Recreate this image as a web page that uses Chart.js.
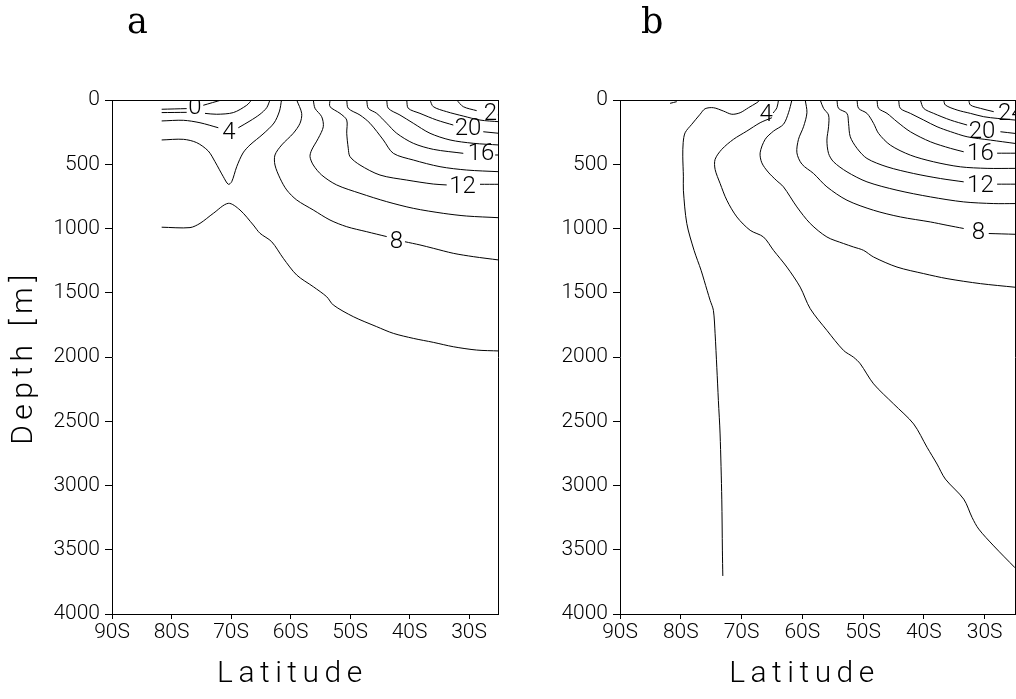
<!DOCTYPE html>
<html>
<head>
<meta charset="utf-8">
<script src="https://cdn.jsdelivr.net/npm/chart.js@4.4.0/dist/chart.umd.min.js"></script>
<style>
  html, body { margin: 0; padding: 0; background: #fff; }
  #wrap { position: relative; width: 1016px; height: 699px; overflow: hidden; }
  canvas { position: absolute; top: 0; }
  #ca { left: 0; }
  #cb { left: 508px; }
</style>
</head>
<body>
<div id="wrap">
  <canvas id="ca" width="508" height="699"></canvas>
  <canvas id="cb" width="508" height="699"></canvas>
</div>
<script>
// ---------- axis ticks ----------
const latTicks = [-90, -80, -70, -60, -50, -40, -30];
const latTickLabels = ['90S', '80S', '70S', '60S', '50S', '40S', '30S'];
const depthTicks = [0, 500, 1000, 1500, 2000, 2500, 3000, 3500, 4000];
const depthTickLabels = ['0', '500', '1000', '1500', '2000', '2500', '3000', '3500', '4000'];

// ---------- panel a : contour lines [latitude, depth]  (null = break at a label) ----------
const contA_0u = [[-81.65,72],[-77.45,67],null,[-74.66,41],[-71.6,0]];
const contA_0l = [[-81.65,98],[-77.45,96],null,[-74.37,104],[-72.4,111],[-69.61,98],[-67.36,41],[-66.52,0]];
const contA_4  = [[-81.65,163],[-78.0,158],[-75.21,177],[-72.13,216],null,[-68.77,216],[-66.81,163],[-65.13,111],[-64.0,60],[-63.45,0]];
const contA_5  = [[-81.65,311],[-78.0,306],[-75.76,332],[-73.82,397],[-72.69,480],[-71.29,597],[-70.45,656],[-69.88,636],[-69.04,519],[-67.98,412],[-66.81,350],[-64.62,265],[-62.77,179],[-61.85,86],[-61.51,0]];
const contA_6  = [[-81.65,990],[-76.89,993],[-75.21,960],[-72.97,882],[-70.45,804],[-68.49,856],[-66.25,973],[-65.13,1037],[-63.16,1103],[-61.21,1232],[-58.96,1362],[-56.17,1453],[-53.92,1531],[-52.81,1595],[-49.45,1686],[-45.51,1764],[-42.72,1816],[-39.36,1855],[-36.0,1886],[-32.64,1920],[-28.71,1946],[-25,1953]];
const contA_8  = [[-58.96,0],[-58.12,104],[-58.4,181],[-59.53,259],[-61.48,350],[-62.61,428],[-62.61,506],[-61.76,609],[-60.64,700],[-58.96,778],[-56.17,856],[-53.36,934],[-50.55,986],[-47.19,1025],[-43.83,1063],null,[-40.76,1103],[-38.24,1128],[-36.0,1154],[-32.64,1193],[-29.28,1219],[-25,1245]];
const contA_10 = [[-56.17,0],[-55.88,65],[-54.76,130],[-54.49,208],[-55.33,298],[-56.44,389],[-56.72,441],[-56.17,506],[-54.76,584],[-52.24,661],[-48.32,726],[-43.83,791],[-39.36,843],[-34.32,882],[-30.39,903],[-25,916]];
const contA_12 = [[-53.36,0],[-53.36,52],[-51.68,104],[-50.55,156],[-50.55,259],[-50.29,376],[-50.0,441],[-48.32,506],[-44.96,584],[-40.47,623],[-36.0,654],[-33.75,661],null,[-28.15,656],[-25,656]];
const contA_14 = [[-50.55,0],[-50.29,65],[-48.32,117],[-46.64,181],[-44.4,311],[-42.72,415],[-39.36,467],[-34.87,519],[-30.39,545],[-25,558]];
const contA_16 = [[-47.19,0],[-46.92,65],[-45.51,104],[-43.83,181],[-42.15,259],[-39.36,337],[-36.0,384],[-30.96,415],null,[-25.6,428],[-25,428]];
const contA_18 = [[-43.83,0],[-43.56,65],[-41.6,117],[-39.36,181],[-36.55,259],[-33.19,311],[-29.28,337],[-25,350]];
const contA_20 = [[-40.47,0],[-40.2,65],[-38.24,104],[-35.43,156],[-32.64,195],null,[-27.6,247],[-25,259]];
const contA_22 = [[-36.55,0],[-36.0,52],[-33.75,91],[-30.96,125],[-28.15,156],[-25,169]];
const contA_24 = [[-32.07,0],[-30.96,52],[-28.71,83]];
const labelsA  = [[-76.05,47,'0'],[-70.34,241,'4'],[-42.18,1089,'8'],[-31.09,665,'12'],[-27.98,405,'16'],[-30.17,212,'20'],[-25.29,93,'24']];

// ---------- panel b ----------
const contB_0  = [[-81.76,26],[-80.66,13]];
const contB_2  = [[-66.94,0],[-67.48,21],[-68.86,60],[-70.23,99],[-71.6,111],[-72.98,86],[-74.63,60],[-76.0,68],[-76.82,111],[-78.19,189],[-79.29,255],[-79.6,330],[-79.67,437],[-79.57,593],[-79.57,702],[-79.01,961],[-77.81,1170],[-76.66,1325],[-75.67,1481],[-75.17,1559],[-74.63,1637],[-74.35,1819],[-74.07,2080],[-73.81,2339],[-73.53,2599],[-73.25,3106],[-73.15,3509],[-73.08,3704]];
const contB_4  = [[-63.92,0],[-64.18,60],[-64.79,101],null,[-65.01,138],[-66.94,177],[-69.13,242],[-71.33,306],[-73.25,384],[-74.35,462],[-74.35,540],[-73.53,649],[-72.42,780],[-70.77,910],[-68.58,1014],[-66.39,1066],[-64.74,1170],[-62.54,1300],[-60.35,1456],[-58.7,1624],[-55.95,1793],[-53.21,1949],[-51.56,2002],[-50.46,2053],[-48.27,2209],[-44.98,2365],[-41.68,2521],[-39.47,2703],[-37.83,2833],[-36.46,2950],[-33.44,3106],[-32.06,3249],[-30.97,3339],[-28.5,3470],[-25,3640]];
const contB_6  = [[-61.71,0],[-62.27,99],[-63.1,189],[-64.74,242],[-66.11,306],[-66.94,411],[-66.66,489],[-65.62,561],[-64.3,624],[-63.1,676],[-60.89,832],[-58.7,961],[-55.95,1066],[-53.21,1117],[-51.56,1144],[-49.92,1170],[-48.27,1222],[-44.42,1300],[-40.03,1351],[-36.18,1390],[-30.69,1429],[-25,1457]];
const contB_8  = [[-59.52,0],[-59.24,99],[-59.8,208],[-60.63,306],[-60.89,411],[-60.07,499],[-58.15,572],[-55.95,676],[-52.65,780],[-48.27,858],[-43.87,910],[-38.93,949],[-36.18,975],[-33.44,1000],null,[-29.32,1039],[-25,1045]];
const contB_10 = [[-57.05,0],[-56.51,65],[-55.68,117],[-55.68,208],[-55.95,312],[-55.68,416],[-54.86,481],[-52.65,559],[-49.36,637],[-44.42,702],[-38.93,754],[-33.44,793],[-28.5,806],[-25,806]];
const contB_12 = [[-54.3,0],[-54.04,65],[-52.65,104],[-52.39,182],[-52.11,286],[-51.0,376],[-49.36,455],[-46.06,520],[-41.68,572],[-37.28,611],[-33.44,637],null,[-27.94,655],[-25,655]];
const contB_14 = [[-51.0,0],[-50.74,65],[-49.36,104],[-48.27,182],[-47.45,260],[-45.52,351],[-42.22,429],[-38.39,481],[-33.99,520],[-29.59,532],[-25,532]];
const contB_16 = [[-47.71,0],[-47.45,65],[-46.06,104],[-44.42,169],[-42.22,247],[-38.93,325],[-35.63,376],[-33.44,403],null,[-27.94,414],[-25,414]];
const contB_18 = [[-44.15,0],[-43.87,65],[-42.22,104],[-40.03,156],[-37.83,208],[-35.63,246],[-32.88,286],[-29.04,312],[-25,338]];
const contB_20 = [[-40.58,0],[-40.03,65],[-38.39,104],[-35.63,156],[-32.88,195],null,[-27.4,247],[-25,260]];
const contB_22 = [[-36.74,0],[-36.46,39],[-34.53,78],[-32.34,104],[-30.15,130],[-27.94,143],[-25,156]];
const contB_24 = [[-32.62,0],[-32.34,39],[-30.69,65],[-28.5,91]];
const labelsB  = [[-65.95,105,'4'],[-31.02,1021,'8'],[-30.69,655,'12'],[-30.69,405,'16'],[-30.44,234,'20'],[-25.6,93,'24']];

const panelATitle = 'a';
const panelBTitle = 'b';
const xTitle = 'Latitude';
const yTitle = 'Depth [m]';

// ---------- helpers ----------
const SANS = 'Roboto, "Liberation Sans", sans-serif';
const toPts = arr => arr.map(p => p ? {x: p[0], y: p[1]} : {x: null, y: null});
const lineDs = arr => ({
  data: toPts(arr), showLine: true, borderColor: '#000', borderWidth: 1,
  pointRadius: 0, pointHoverRadius: 0, fill: false, tension: 0.3, spanGaps: false
});

const spacedTitles = {
  id: 'spacedTitles',
  beforeDraw(chart) {
    Object.values(chart.scales).forEach(s => {
      if (s._spacedPatched) return;
      const orig = s.drawTitle;
      s.drawTitle = function () {
        const ctx = this.ctx;
        ctx.save();
        ctx.letterSpacing = '5.5px';
        if (this.isHorizontal()) ctx.translate(-13, 0);
        orig.call(this);
        ctx.restore();
      };
      s._spacedPatched = true;
    });
  }
};

const contourLabels = {
  id: 'contourLabels',
  afterDatasetsDraw(chart, args, opts) {
    const {ctx, chartArea: ca, scales: {x, y}} = chart;
    ctx.save();
    ctx.beginPath();
    ctx.rect(ca.left, ca.top, ca.right - ca.left, ca.bottom - ca.top);
    ctx.clip();
    ctx.font = '300 24px ' + SANS;
    ctx.fillStyle = '#000';
    ctx.textAlign = 'center';
    ctx.textBaseline = 'middle';
    (opts.labels || []).forEach(([lat, d, t]) => {
      ctx.fillText(t, x.getPixelForValue(lat), y.getPixelForValue(d) + 2);
    });
    ctx.restore();
  }
};

const panelLetter = {
  id: 'panelLetter',
  afterDraw(chart, args, opts) {
    const ctx = chart.ctx;
    ctx.save();
    ctx.font = '35px "DejaVu Serif", serif';
    ctx.fillStyle = '#000';
    ctx.textAlign = 'left';
    ctx.textBaseline = 'alphabetic';
    ctx.fillText(opts.text, opts.x, opts.y);
    ctx.restore();
  }
};

function makePanel(id, contours, labels, letter, withYTitle, rightPad) {
  const tickFont = {family: SANS, size: 21, weight: '300'};
  const titleFont = {family: SANS, size: 30, weight: '300'};
  return new Chart(document.getElementById(id), {
    type: 'scatter',
    data: {datasets: contours.map(lineDs)},
    options: {
      responsive: false, animation: false, devicePixelRatio: 1,
      layout: {padding: {top: 100, right: rightPad, bottom: 0, left: 0}},
      plugins: {
        legend: {display: false}, tooltip: {enabled: false},
        contourLabels: {labels},
        panelLetter: letter
      },
      scales: {
        x: {
          type: 'linear', position: 'bottom', min: -90, max: -25,
          afterBuildTicks: s => { s.ticks = latTicks.map(v => ({value: v})); },
          ticks: {font: tickFont, color: '#000', padding: 1, maxRotation: 0, autoSkip: false,
                  callback: (v, i) => latTickLabels[i]},
          grid: {display: true, drawOnChartArea: false, drawTicks: true, tickLength: 5, color: '#000', lineWidth: 1},
          border: {display: true, color: '#000', width: 1},
          title: {display: true, text: xTitle, font: titleFont, color: '#000', padding: {top: 0, bottom: 7}},
          afterFit: s => { s.height = 85; }
        },
        y: {
          type: 'linear', position: 'left', reverse: true, min: 0, max: 4000,
          afterBuildTicks: s => { s.ticks = depthTicks.map(v => ({value: v})); },
          ticks: {font: tickFont, color: '#000', padding: 5, autoSkip: false,
                  callback: (v, i) => depthTickLabels[i]},
          grid: {display: true, drawOnChartArea: false, drawTicks: true, tickLength: 7, color: '#000', lineWidth: 1},
          border: {display: true, color: '#000', width: 1},
          title: {display: withYTitle, text: yTitle, font: titleFont, color: '#000', padding: {top: 6, bottom: 0}},
          afterFit: s => { s.width = 112; }
        },
        xTop: {
          type: 'linear', position: 'top', min: -90, max: -25, display: true,
          ticks: {display: false}, grid: {display: false},
          border: {display: true, color: '#000', width: 1},
          afterFit: s => { s.height = 0; }
        },
        yRight: {
          type: 'linear', position: 'right', min: 0, max: 4000, reverse: true, display: true,
          ticks: {display: false}, grid: {display: false},
          border: {display: true, color: '#000', width: 1},
          afterFit: s => { s.width = 0; }
        }
      }
    },
    plugins: [spacedTitles, contourLabels, panelLetter]
  });
}

makePanel('ca',
  [contA_0u, contA_0l, contA_4, contA_5, contA_6, contA_8, contA_10, contA_12, contA_14, contA_16, contA_18, contA_20, contA_22, contA_24],
  labelsA, {text: panelATitle, x: 127, y: 33}, true, 9.25);

makePanel('cb',
  [contB_0, contB_2, contB_4, contB_6, contB_8, contB_10, contB_12, contB_14, contB_16, contB_18, contB_20, contB_22, contB_24],
  labelsB, {text: panelBTitle, x: 133, y: 33}, false, 1);
</script>
</body>
</html>
